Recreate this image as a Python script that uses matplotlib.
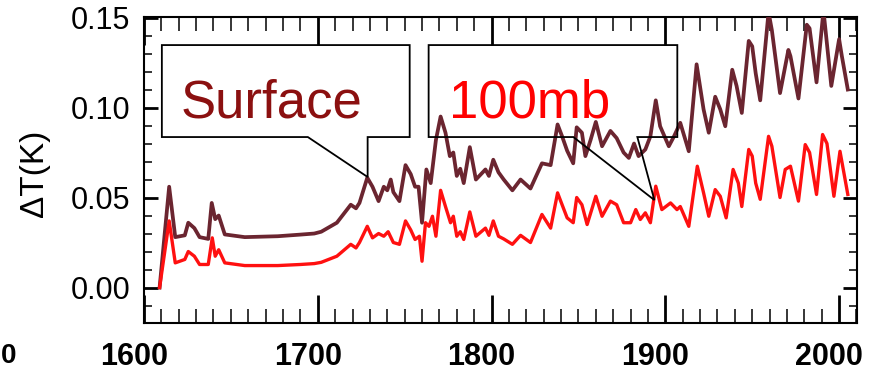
import matplotlib
matplotlib.use("Agg")
import matplotlib.pyplot as plt
from matplotlib.patches import Polygon
from matplotlib.ticker import MultipleLocator, FormatStrFormatter
from matplotlib.transforms import ScaledTranslation

plt.rcParams["font.family"] = ["Liberation Sans", "DejaVu Sans"]

# surface temperature response
surface_years = [
    1609, 1614.5, 1618, 1623.5, 1625.5, 1629, 1632, 1637, 1639, 1641, 1643, 1646.5,
    1658, 1677, 1690, 1698, 1702, 1711, 1719, 1722, 1724, 1728.5, 1731.5, 1735,
    1738, 1740, 1742, 1743.5, 1747, 1750.5, 1753.5, 1756, 1758, 1760, 1762.5, 1765,
    1768, 1770.7, 1773.5, 1776, 1778, 1780, 1782, 1784, 1787.5, 1791, 1796.5, 1798.5,
    1801, 1804, 1807, 1812, 1816.7, 1822.4, 1829, 1834, 1838, 1840.6, 1843.5, 1847,
    1849, 1852, 1854, 1857, 1860, 1863.6, 1868.4, 1872, 1876, 1879, 1882, 1884.6,
    1888.5, 1891.4, 1894.5, 1897, 1902, 1905, 1908.6, 1913.5, 1918, 1922, 1925, 1928.7,
    1931.6, 1934.5, 1938.5, 1941, 1944, 1948, 1950, 1952, 1954.6, 1959.4, 1961.3, 1966,
    1970.8, 1972, 1976.6, 1981.4, 1983, 1987, 1991, 1995.5, 2000, 2001.5, 2005,
]
surface_dt = [
    0.000, 0.056, 0.028, 0.029, 0.036, 0.033, 0.028, 0.027, 0.047, 0.038, 0.040, 0.0295,
    0.028, 0.0285, 0.0294, 0.030, 0.031, 0.036, 0.046, 0.044, 0.047, 0.061, 0.056, 0.048,
    0.056, 0.054, 0.060, 0.053, 0.048, 0.068, 0.063, 0.056, 0.056, 0.036, 0.0656, 0.058,
    0.082, 0.095, 0.086, 0.073, 0.075, 0.062, 0.066, 0.058, 0.078, 0.060, 0.0656, 0.062,
    0.071, 0.064, 0.060, 0.054, 0.060, 0.055, 0.069, 0.068, 0.0906, 0.084, 0.076, 0.069,
    0.089, 0.086, 0.073, 0.082, 0.092, 0.0785, 0.087, 0.083, 0.075, 0.072, 0.080, 0.073,
    0.0767, 0.084, 0.104, 0.0896, 0.0785, 0.084, 0.0915, 0.0757, 0.124, 0.099, 0.086, 0.106,
    0.099, 0.0896, 0.121, 0.112, 0.097, 0.137, 0.134, 0.119, 0.104, 0.153, 0.143, 0.108,
    0.132, 0.1285, 0.105, 0.146, 0.144, 0.114, 0.154, 0.112, 0.138, 0.129, 0.110,
]

# 100 mb temperature response
mb100_years = [
    1609, 1614.5, 1618, 1623.5, 1625.5, 1629, 1632, 1637, 1639.3, 1641, 1643, 1646.5,
    1658, 1677, 1690, 1698, 1702, 1711, 1719, 1722, 1724, 1728.5, 1731.5, 1735,
    1738, 1740.5, 1743.5, 1747, 1750.5, 1753.5, 1756, 1758.5, 1760, 1762, 1764, 1766,
    1768, 1770.7, 1773.5, 1776.4, 1778, 1780, 1782, 1784, 1787.5, 1791, 1796.5, 1798.5,
    1801, 1804, 1807, 1812, 1816.7, 1822.4, 1829, 1834, 1838, 1840.6, 1843.5, 1847,
    1849, 1852, 1855, 1860, 1863.6, 1868.4, 1872, 1876, 1880, 1883, 1885.6, 1888.5,
    1891.4, 1894.5, 1898, 1903, 1906.7, 1908.6, 1913.5, 1918.4, 1922, 1925, 1928.7, 1931.6,
    1935, 1939, 1942, 1944, 1948, 1950, 1952, 1954.6, 1959.4, 1961.3, 1966, 1969,
    1972, 1976.6, 1980.5, 1983, 1987, 1990.5, 1993, 1997, 2000.5, 2005,
]
mb100_dt = [
    0.000, 0.037, 0.0137, 0.0156, 0.020, 0.0174, 0.0128, 0.0128, 0.0276, 0.0174, 0.021, 0.0137,
    0.0122, 0.0122, 0.0128, 0.0133, 0.014, 0.0174, 0.024, 0.022, 0.025, 0.034, 0.0276, 0.030,
    0.0285, 0.031, 0.025, 0.024, 0.037, 0.032, 0.0267, 0.0285, 0.0146, 0.036, 0.034, 0.0396,
    0.0285, 0.054, 0.045, 0.036, 0.0396, 0.0285, 0.031, 0.0267, 0.042, 0.0285, 0.033, 0.029,
    0.037, 0.0285, 0.027, 0.024, 0.029, 0.025, 0.0406, 0.033, 0.0526, 0.046, 0.0387, 0.036,
    0.050, 0.046, 0.035, 0.0507, 0.0396, 0.048, 0.046, 0.036, 0.036, 0.0433, 0.0378, 0.0415,
    0.036, 0.0563, 0.0433, 0.047, 0.0433, 0.045, 0.034, 0.0674, 0.0526, 0.0396, 0.0544, 0.0507,
    0.0387, 0.0656, 0.058, 0.045, 0.0767, 0.073, 0.058, 0.049, 0.084, 0.0785, 0.050, 0.0656,
    0.0674, 0.048, 0.0794, 0.075, 0.0517, 0.085, 0.080, 0.0507, 0.0757, 0.0517,
]

x_ticks = [1600, 1700, 1800, 1900, 2000]
y_ticks = [0.00, 0.05, 0.10, 0.15]

SURFACE_COLOR = "#6b2530"
MB100_COLOR = "#ff1010"


def add_callout(ax, box, base, tip):
    # box = (x0, x1, y0, y1), base = (xa, xb) where the pointer leaves the box
    x0, x1, y0, y1 = box
    xa, xb = base
    verts = [(x0, y1), (x1, y1), (x1, y0), (xb, y0), tip, (xa, y0), (x0, y0)]
    ax.add_patch(Polygon(verts, closed=True, fill=False, edgecolor="black",
                         linewidth=1.3, zorder=4))


def main():
    fig = plt.figure(figsize=(8.87, 3.75), dpi=100)
    ax = fig.add_axes([0.1623, 0.1387, 0.8039, 0.816])

    ax.plot(surface_years, surface_dt, color=SURFACE_COLOR, linewidth=2.7, zorder=3)
    ax.plot(mb100_years, mb100_dt, color=MB100_COLOR, linewidth=2.4, zorder=3)

    ax.set_xlim(1600, 2010.3)
    ax.set_ylim(-0.0197, 0.1503)

    ax.set_xticks(x_ticks)
    ax.set_yticks(y_ticks)
    ax.xaxis.set_minor_locator(MultipleLocator(10))
    ax.yaxis.set_minor_locator(MultipleLocator(0.01))
    ax.yaxis.set_major_formatter(FormatStrFormatter("%.2f"))

    ax.tick_params(which="both", direction="in", top=True, right=True)
    ax.tick_params(axis="x", which="major", length=20, width=2, pad=14, labelsize=22)
    ax.tick_params(axis="x", which="minor", length=10, width=1.1)
    ax.tick_params(axis="y", which="major", length=10, width=2, pad=10, labelsize=22)
    ax.tick_params(axis="y", which="minor", length=6, width=1.1)
    for label in ax.get_xticklabels():
        label.set_fontweight("bold")
        label.set_transform(label.get_transform()
                            + ScaledTranslation(-0.10, 0, fig.dpi_scale_trans))
    for spine in ax.spines.values():
        spine.set_linewidth(1.5)

    ax.set_ylabel("ΔT(K)", fontsize=24)
    ax.yaxis.set_label_coords(-0.132, 0.49)

    # callout boxes
    add_callout(ax, (1610.3, 1752.9, 0.0836, 0.1347), (1694.3, 1728.7), (1728.7, 0.0614))
    add_callout(ax, (1763.8, 1906.9, 0.0836, 0.1347), (1847.1, 1883.9), (1893.7, 0.0486))
    ax.text(1673.6, 0.0947, "Surface", color="#8b1010", fontsize=38,
            ha="center", va="baseline", zorder=5)
    ax.text(1821.8, 0.0947, "100mb", color="#ff0000", fontsize=38,
            ha="center", va="baseline", zorder=5)

    # tick label of the neighbouring panel, mostly cut off in the source
    fig.text(1 / 887, 1 - 343 / 375, "0", fontsize=20, fontweight="bold",
             ha="left", va="top")

    fig.savefig("out.png", dpi=100)
    plt.close(fig)


if __name__ == "__main__":
    main()
